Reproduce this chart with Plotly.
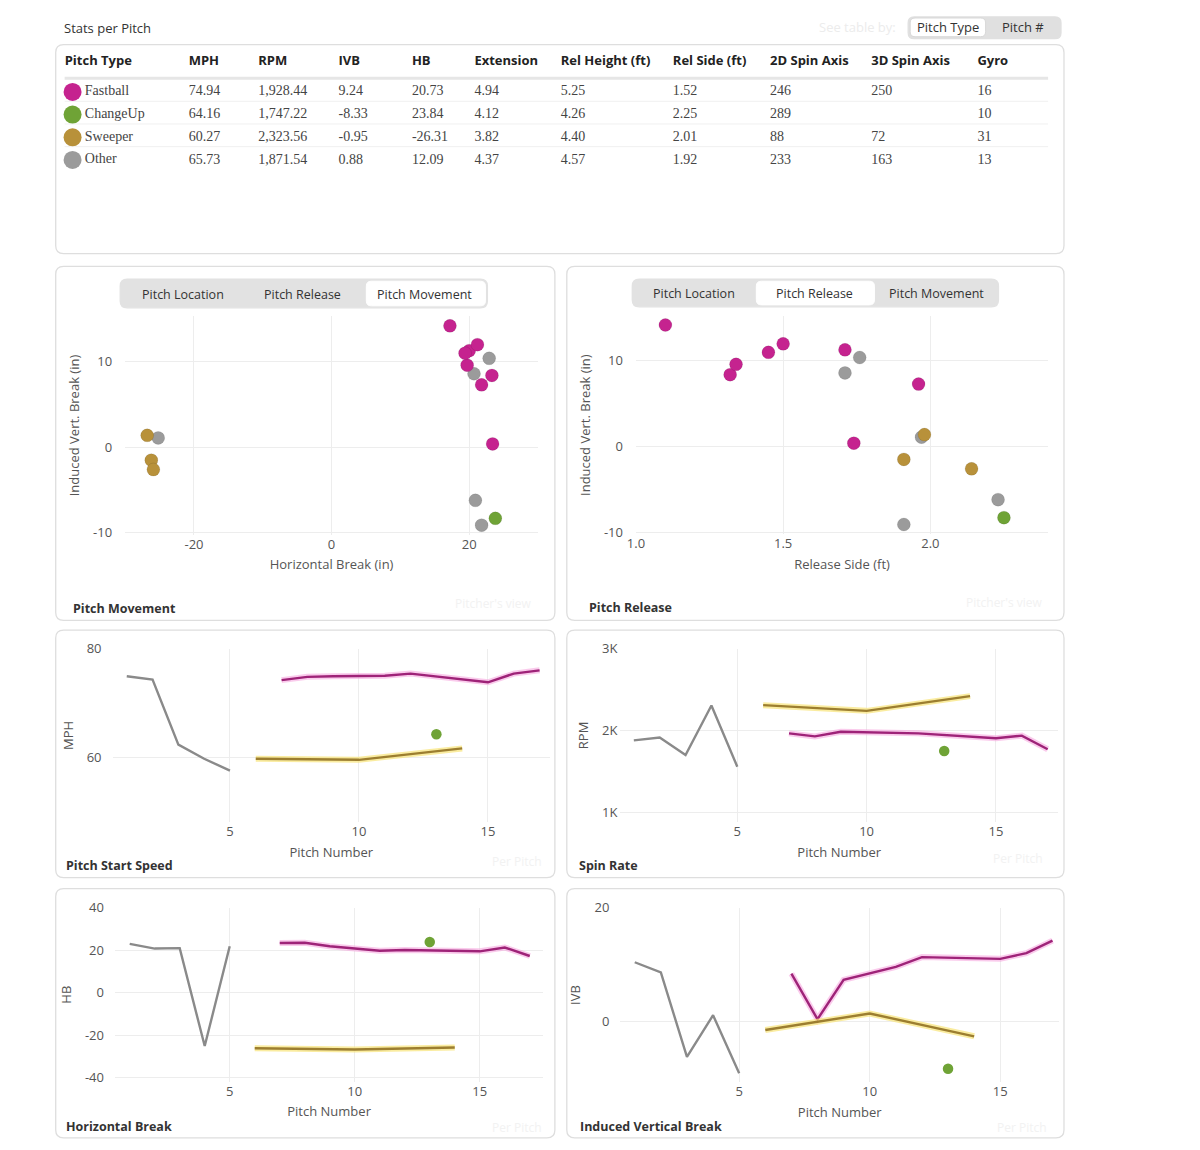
import plotly.graph_objects as go

# The page keeps the browser's default 8px body margin, so the figure is drawn
# 16px smaller than the window and every position below is given in window pixels.
PAGE_W, PAGE_H = 1200, 1150
OFF = 8
W, H = PAGE_W - 2 * OFF, PAGE_H - 2 * OFF

# ---- per-pitch data ----
pitch_no = list(range(1, 18))
pitch_type = ["Other", "Other", "Other", "Other", "Other", "Sweeper", "Fastball", "Fastball", "Fastball",
              "Sweeper", "Fastball", "Fastball", "ChangeUp", "Sweeper", "Fastball", "Fastball", "Fastball"]
mph = [74.9, 74.3, 62.3, 59.7, 57.5, 59.7, 74.2, 74.8, 74.9, 59.5, 75.0, 75.4, 64.2, 61.6, 73.8, 75.4, 76.0]
rpm = [1880, 1915, 1700, 2305, 1558, 2310, 1965, 1928, 1985, 2240, 1972, 1965, 1750, 2420, 1905, 1937, 1771]
hb = [22.9, 20.7, 20.9, -25.2, 21.8, -26.2, 23.3, 23.4, 21.8, -26.8, 19.7, 20.0, 23.8, -25.9, 19.4, 21.2, 17.2]
ivb = [10.4, 8.6, -6.2, 1.1, -9.1, -1.5, 8.4, 0.4, 7.3, 1.4, 9.6, 11.3, -8.3, -2.6, 11.0, 12.0, 14.2]
rel_side = [1.76, 1.71, 2.23, 1.97, 1.91, 1.91, 1.32, 1.74, 1.96, 1.98, 1.34, 1.71, 2.25, 2.14, 1.45, 1.50, 1.10]

# ---- summary table ----
tbl_columns = ["Pitch Type", "MPH", "RPM", "IVB", "HB", "Extension", "Rel Height (ft)", "Rel Side (ft)",
               "2D Spin Axis", "3D Spin Axis", "Gyro"]
tbl_types = ["Fastball", "ChangeUp", "Sweeper", "Other"]
tbl_mph = ["74.94", "64.16", "60.27", "65.73"]
tbl_rpm = ["1,928.44", "1,747.22", "2,323.56", "1,871.54"]
tbl_ivb = ["9.24", "-8.33", "-0.95", "0.88"]
tbl_hb = ["20.73", "23.84", "-26.31", "12.09"]
tbl_ext = ["4.94", "4.12", "3.82", "4.37"]
tbl_rel_h = ["5.25", "4.26", "4.40", "4.57"]
tbl_rel_s = ["1.52", "2.25", "2.01", "1.92"]
tbl_axis2d = ["246", "289", "88", "233"]
tbl_axis3d = ["250", "", "72", "163"]
tbl_gyro = ["16", "10", "31", "13"]

# tick labels (plain hyphen minus, as in the original)
brk_ticks = [-20, 0, 20]
brk_labels = ["-20", "0", "20"]
ivb_ticks = [-10, 0, 10]
ivb_labels = ["-10", "0", "10"]
hb_ticks = [-40, -20, 0, 20, 40]
hb_labels = ["-40", "-20", "0", "20", "40"]
rpm_ticks = [1000, 2000, 3000]
rpm_labels = ["1K", "2K", "3K"]

COLORS = {"Fastball": "#c5238f", "ChangeUp": "#6fa336", "Sweeper": "#b8913a", "Other": "#9b9b9b"}
LINE_CORE = {"Fastball": "#9e2378", "ChangeUp": "#6fa336", "Sweeper": "#9c7e30", "Other": "#8a8a8a"}
LINE_GLOW = {"Fastball": "rgba(245,160,220,0.55)", "Sweeper": "rgba(248,228,120,0.7)"}

UI_FONT = "Open Sans"
SERIF = "Liberation Serif"
GRID = "#ededed"
TICK = "#555555"
CLEAR = "rgba(0,0,0,0)"


def fx(px):
    return (px - OFF) / W


def fy(py):
    return 1 - (py - OFF) / H


def rounded_rect(x0, y0, x1, y1, r, line="#dedede", fill=CLEAR, width=1.3):
    X0, X1 = fx(x0), fx(x1)
    Y0, Y1 = fy(y0), fy(y1)
    rx, ry = r / W, r / H
    path = (f"M {X0 + rx},{Y0} L {X1 - rx},{Y0} Q {X1},{Y0} {X1},{Y0 - ry} "
            f"L {X1},{Y1 + ry} Q {X1},{Y1} {X1 - rx},{Y1} L {X0 + rx},{Y1} "
            f"Q {X0},{Y1} {X0},{Y1 + ry} L {X0},{Y0 - ry} Q {X0},{Y0} {X0 + rx},{Y0} Z")
    return dict(type="path", xref="paper", yref="paper", path=path, fillcolor=fill,
                line=dict(color=line, width=width), layer="below")


fig = go.Figure()

# ---- table ----
fig.add_trace(go.Table(
    domain=dict(x=[fx(48), fx(1055)], y=[fy(245), fy(34)]),
    columnwidth=[125, 70, 81, 74, 63, 87, 113, 98, 102, 107, 87],
    header=dict(values=[f"<b>{c}</b>" for c in tbl_columns], align="left", height=33,
                fill_color=CLEAR, line_color=CLEAR,
                font=dict(family=UI_FONT, size=13, color="#222")),
    cells=dict(values=[[""] * len(tbl_types), tbl_mph, tbl_rpm, tbl_ivb, tbl_hb, tbl_ext, tbl_rel_h,
                       tbl_rel_s, tbl_axis2d, tbl_axis3d, tbl_gyro],
               align="left", height=23, fill_color=CLEAR, line_color=CLEAR,
               font=dict(family=SERIF, size=14, color="#444")),
))

# pitch-type dots + names in the first table column (hidden categorical axes over the rows)
fig.add_trace(go.Scatter(
    x=["Pitch Type"] * len(tbl_types), y=tbl_types, mode="markers+text", text=tbl_types,
    textposition="middle right", textfont=dict(family=SERIF, size=14, color="#444"),
    marker=dict(size=18, color=[COLORS[t] for t in tbl_types]),
    xaxis="x7", yaxis="y7", hoverinfo="skip", cliponaxis=False,
))

# ---- axes layout ----
axes = {
    1: dict(xd=(117, 533), yd=(311.7, 533), xr=[-30, 30], yr=[-10.2, 15.3],
            xticks=(brk_ticks, brk_labels), yticks=(ivb_ticks, ivb_labels),
            xtitle="Horizontal Break (in)", ytitle="Induced Vert. Break (in)", ystand=12),
    2: dict(xd=(631.7, 1047), yd=(311.7, 532.3), xr=[1.0, 2.4], yr=[-10.2, 15.2],
            xticks=None, yticks=(ivb_ticks, ivb_labels), xt=0.5,
            xtitle="Release Side (ft)", ytitle="Induced Vert. Break (in)", ystand=12),
    3: dict(xd=(104.3, 545), yd=(648.7, 824.7), xr=[0.45, 17.4], yr=[48, 80], xt=5, yt=20,
            xticks=None, yticks=None, xtitle="Pitch Number", ytitle="MPH", ystand=10),
    4: dict(xd=(616, 1057), yd=(648.7, 824.7), xr=[0.48, 17.4], yr=[880, 3000], xt=5,
            xticks=None, yticks=(rpm_ticks, rpm_labels), xtitle="Pitch Number", ytitle="RPM", ystand=2),
    5: dict(xd=(106.7, 538.3), yd=(911.3, 1088), xr=[0.41, 17.54], yr=[-42, 40], xt=5,
            xticks=None, yticks=(hb_ticks, hb_labels), xtitle="Pitch Number", ytitle="HB", ystand=10),
    6: dict(xd=(616, 1058), yd=(911.3, 1088.7), xr=[0.45, 17.25], yr=[-10.7, 20], xt=5, yt=20,
            xticks=None, yticks=None, xtitle="Pitch Number", ytitle="IVB", ystand=10),
}

layout_axes = {}
for i, a in axes.items():
    sfx = "" if i == 1 else str(i)
    xax = dict(
        domain=[fx(a["xd"][0]), fx(a["xd"][1])], range=a["xr"], anchor=f"y{sfx}",
        showgrid=True, gridcolor=GRID, zeroline=False, showline=False, ticks="",
        tickfont=dict(family=UI_FONT, size=13, color=TICK),
        title=dict(text=a["xtitle"], font=dict(family=UI_FONT, size=13, color=TICK), standoff=8),
        fixedrange=True,
    )
    if a["xticks"]:
        xax.update(tickvals=a["xticks"][0], ticktext=a["xticks"][1])
    else:
        xax.update(dtick=a["xt"], tick0=0, tickformat=".1f" if i == 2 else "")
    yax = dict(
        domain=[fy(a["yd"][1]), fy(a["yd"][0])], range=a["yr"], anchor=f"x{sfx}",
        showgrid=True, gridcolor=GRID, zeroline=False, showline=False, ticks="",
        tickfont=dict(family=UI_FONT, size=13, color=TICK), ticklabelstandoff=a["ystand"],
        title=dict(text=a["ytitle"], font=dict(family=UI_FONT, size=13, color=TICK), standoff=10),
        fixedrange=True,
    )
    if a["yticks"]:
        yax.update(tickvals=a["yticks"][0], ticktext=a["yticks"][1])
    else:
        yax.update(dtick=a["yt"], tick0=0)
    layout_axes[f"yaxis{sfx}"] = yax
    layout_axes[f"xaxis{sfx}"] = xax

# hidden axes aligned with the table rows (rows 23px tall starting under the header rule)
n_rows = len(tbl_types)
ROW_TOP = 72.5
layout_axes["xaxis7"] = dict(domain=[fx(55), fx(73)], visible=False, fixedrange=True, anchor="y7",
                             range=[-0.5, 0.5])
layout_axes["yaxis7"] = dict(domain=[fy(ROW_TOP + 23 * n_rows), fy(ROW_TOP)], visible=False,
                             fixedrange=True, anchor="x7", range=[n_rows - 0.5, -0.5],
                             categoryorder="array", categoryarray=tbl_types)


def subset(values, kind):
    xs = [p for p, t in zip(pitch_no, pitch_type) if t == kind]
    ys = [v for v, t in zip(values, pitch_type) if t == kind]
    return xs, ys


draw_order = ["Other", "Fastball", "ChangeUp", "Sweeper"]

# ---- scatter panels ----
for idx, xvals in ((1, hb), (2, rel_side)):
    sfx = "" if idx == 1 else str(idx)
    for kind in draw_order:
        xs = [v for v, t in zip(xvals, pitch_type) if t == kind]
        ys = [v for v, t in zip(ivb, pitch_type) if t == kind]
        fig.add_trace(go.Scatter(
            x=xs, y=ys, mode="markers", name=kind, showlegend=False,
            xaxis=f"x{sfx}", yaxis=f"y{sfx}",
            marker=dict(size=13, color=COLORS[kind], line=dict(width=0.6, color="rgba(0,0,0,0.15)")),
        ))

# ---- per-pitch line panels ----
for idx, values in ((3, mph), (4, rpm), (5, hb), (6, ivb)):
    sfx = str(idx)
    for kind in draw_order:
        xs, ys = subset(values, kind)
        if len(xs) == 1:
            fig.add_trace(go.Scatter(x=xs, y=ys, mode="markers", showlegend=False,
                                     xaxis=f"x{sfx}", yaxis=f"y{sfx}",
                                     marker=dict(size=10.5, color=COLORS[kind])))
            continue
        if kind in LINE_GLOW:
            fig.add_trace(go.Scatter(x=xs, y=ys, mode="lines", showlegend=False, hoverinfo="skip",
                                     xaxis=f"x{sfx}", yaxis=f"y{sfx}",
                                     line=dict(color=LINE_GLOW[kind], width=6)))
        fig.add_trace(go.Scatter(x=xs, y=ys, mode="lines", name=kind, showlegend=False,
                                 xaxis=f"x{sfx}", yaxis=f"y{sfx}",
                                 line=dict(color=LINE_CORE[kind], width=2.4)))

# ---- cards, toggles and labels ----
shapes = [
    rounded_rect(47, 36, 1063, 248, 8),
    rounded_rect(47, 261, 550, 620, 8),
    rounded_rect(562, 261, 1063, 620, 8),
    rounded_rect(47, 630, 550, 881, 8),
    rounded_rect(562, 630, 1063, 881, 8),
    rounded_rect(47, 892, 550, 1145, 8),
    rounded_rect(562, 892, 1063, 1145, 8),
    # toggles
    rounded_rect(906, 8, 1060, 30, 6, line="#e0e0e0", fill="#e0e0e0"),
    rounded_rect(908, 9, 984, 28, 5, line="#d8d8d8", fill="white", width=1),
    rounded_rect(112, 274, 482, 303, 7, line="#e2e2e2", fill="#e2e2e2"),
    rounded_rect(360, 276, 480, 301, 5, line="white", fill="white", width=1),
    rounded_rect(628, 274, 997, 302, 7, line="#e2e2e2", fill="#e2e2e2"),
    rounded_rect(753, 276, 872, 300, 5, line="white", fill="white", width=1),
]
# table header rule and row separators
shapes.append(dict(type="line", xref="paper", yref="paper", x0=fx(56), x1=fx(1047), y0=fy(70), y1=fy(70),
                   line=dict(color="#e6e6e6", width=3), layer="below"))
for py in (93.5, 116.5, 139.5):
    shapes.append(dict(type="line", xref="paper", yref="paper", x0=fx(56), x1=fx(1047), y0=fy(py), y1=fy(py),
                       line=dict(color="#f0f0f0", width=1), layer="below"))


def label(text, x, y, size=13, color="#333", anchor="left", bold=False):
    return dict(text=f"<b>{text}</b>" if bold else text, x=fx(x), y=fy(y), xref="paper", yref="paper",
                xanchor=anchor, yanchor="middle", showarrow=False, borderpad=0,
                font=dict(family=UI_FONT, size=size, color=color))


annotations = [
    label("Stats per Pitch", 54, 19, size=13, color="#333"),
    label("See table by:", 895, 18, size=13, color="#ececec", anchor="right"),
    label("Pitch Type", 946, 18, color="#333", anchor="center"),
    label("Pitch #", 1022, 18, color="#333", anchor="center"),
    label("Pitch Location", 175, 289, size=12.5, anchor="center"),
    label("Pitch Release", 296, 289, size=12.5, anchor="center"),
    label("Pitch Movement", 419, 289, size=12.5, anchor="center"),
    label("Pitch Location", 690, 288, size=12.5, anchor="center"),
    label("Pitch Release", 812, 288, size=12.5, anchor="center"),
    label("Pitch Movement", 935, 288, size=12.5, anchor="center"),
    label("Pitch Movement", 63, 608, size=12.5, color="#333", bold=True),
    label("Pitch Release", 583, 607, size=12.5, color="#333", bold=True),
    label("Pitch Start Speed", 56, 869, size=12.5, color="#333", bold=True),
    label("Spin Rate", 573, 869, size=12.5, color="#333", bold=True),
    label("Horizontal Break", 56, 1133, size=12.5, color="#333", bold=True),
    label("Induced Vertical Break", 574, 1133, size=12.5, color="#333", bold=True),
    label("Pitcher's view", 528, 603, size=12, color="#f2f2f2", anchor="right"),
    label("Pitcher's view", 1043, 602, size=12, color="#f2f2f2", anchor="right"),
    label("Per Pitch", 538, 865, size=12, color="#f2f2f2", anchor="right"),
    label("Per Pitch", 1043, 862, size=12, color="#f2f2f2", anchor="right"),
    label("Per Pitch", 538, 1134, size=12, color="#f2f2f2", anchor="right"),
    label("Per Pitch", 1047, 1134, size=12, color="#f2f2f2", anchor="right"),
]

fig.update_layout(
    width=W, height=H, autosize=False, margin=dict(l=0, r=0, t=0, b=0),
    paper_bgcolor="white", plot_bgcolor="white",
    showlegend=False, shapes=shapes, annotations=annotations,
    font=dict(family=UI_FONT, color="#333"),
    **layout_axes,
)

fig.write_html("out.html", config={"displayModeBar": False})
